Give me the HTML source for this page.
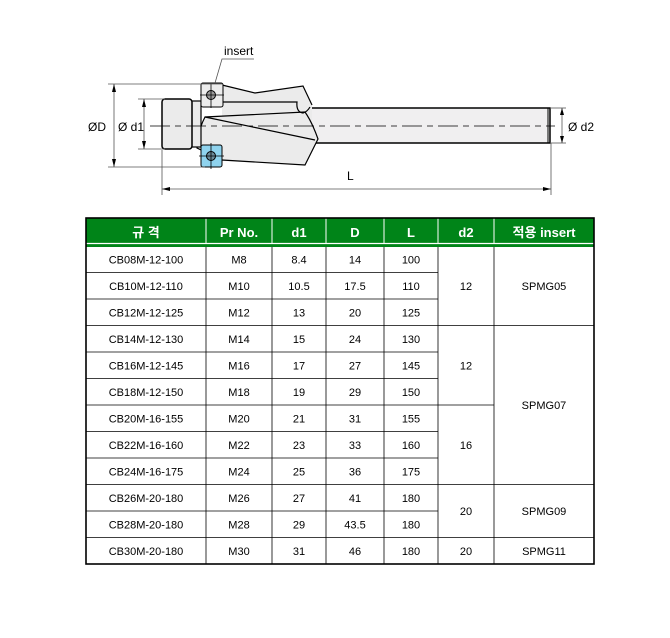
<!DOCTYPE html>
<html><head><meta charset="utf-8"><style>
html,body{margin:0;padding:0;background:#fff;}
svg{display:block;}
text{font-family:"Liberation Sans","Noto Sans CJK KR",sans-serif;}
</style></head><body>
<svg width="670" height="638" viewBox="0 0 670 638" xmlns="http://www.w3.org/2000/svg">
<!-- shank -->
<rect x="310" y="108" width="240" height="35" fill="#f0eff0" stroke="#000" stroke-width="1.5"/>
<line x1="548" y1="108" x2="548" y2="143" stroke="#000" stroke-width="1"/>
<!-- body -->
<path d="M222,85 L255,93 L303,86 L312,105 L312,143 L305,165 L222,161 L222,103 Z" fill="#ebebeb" stroke="none"/>
<path d="M205,117 Q198,130 197,148 L222,160 L305,165 L318,139 Q312,122 305,112 Z" fill="#ebebeb" stroke="#000" stroke-width="1.2"/>
<path d="M222,85 L255,93 L303,86 L312,105" fill="none" stroke="#000" stroke-width="1.2"/>
<path d="M222,102 L297,102 Q296,112 303,113 Q307,112 310,107" fill="none" stroke="#000" stroke-width="1.2"/>
<path d="M205,117 L315,140" fill="none" stroke="#000" stroke-width="1.2"/>
<!-- head -->
<rect x="191" y="101" width="10" height="46" fill="#ebebeb" stroke="#000" stroke-width="1.2"/>
<rect x="162" y="99" width="30" height="50" rx="3" fill="#ebebeb" stroke="#000" stroke-width="1.5"/>
<!-- inserts -->
<rect x="201" y="83" width="22" height="24" rx="2" fill="#ececec" stroke="#000" stroke-width="1"/>
<circle cx="211" cy="95" r="4.5" fill="#999" stroke="#000"/>
<line x1="200" y1="95" x2="224" y2="95" stroke="#000" stroke-width="0.8"/>
<line x1="211" y1="84" x2="211" y2="108" stroke="#000" stroke-width="0.8"/>
<rect x="201" y="145" width="21" height="22" rx="2" fill="#8fd3ee" stroke="#000" stroke-width="1"/>
<circle cx="211" cy="156" r="4.5" fill="#6b8a99" stroke="#000"/>
<line x1="199" y1="156" x2="224" y2="156" stroke="#000" stroke-width="0.8"/>
<line x1="211" y1="143" x2="211" y2="169" stroke="#000" stroke-width="0.8"/>
<!-- center line -->
<line x1="150" y1="126" x2="555" y2="126" stroke="#000" stroke-width="0.8" stroke-dasharray="20,5,6,5"/>
<!-- dimension lines -->
<g stroke="#555" stroke-width="0.8" fill="none">
<line x1="108" y1="84" x2="222" y2="84"/>
<line x1="108" y1="167" x2="205" y2="167"/>
<line x1="138" y1="99" x2="165" y2="99"/>
<line x1="138" y1="149" x2="165" y2="149"/>
<line x1="114" y1="84" x2="114" y2="167"/>
<line x1="144" y1="99" x2="144" y2="149"/>
<line x1="162" y1="150" x2="162" y2="195"/>
<line x1="551" y1="143" x2="551" y2="195"/>
<line x1="162" y1="189" x2="551" y2="189"/>
<line x1="550" y1="108" x2="566" y2="108"/>
<line x1="550" y1="143" x2="566" y2="143"/>
<line x1="562" y1="108" x2="562" y2="143"/>
<polyline points="215,83 222,59 254,59"/>
</g>
<g fill="#000">
<polygon points="114,84 112,92 116,92"/><polygon points="114,167 112,159 116,159"/>
<polygon points="144,99 142,107 146,107"/><polygon points="144,149 142,141 146,141"/>
<polygon points="162,189 170,187 170,191"/><polygon points="551,189 543,187 543,191"/>
<polygon points="562,108 560,115 564,115"/><polygon points="562,143 560,136 564,136"/>
</g>
<g font-size="12" fill="#000">
<text x="224" y="55">insert</text>
<text x="88" y="131">ØD</text>
<text x="118" y="131">Ø d1</text>
<text x="568" y="131">Ø d2</text>
<text x="347" y="180">L</text>
</g>
<!-- table -->
<rect x="86" y="218" width="508" height="29" fill="#008418"/>
<line x1="86" y1="243.5" x2="594" y2="243.5" stroke="#fff" stroke-width="1.2"/>
<g stroke="#fff" stroke-width="1">
<line x1="206" y1="218" x2="206" y2="243"/><line x1="272" y1="218" x2="272" y2="243"/>
<line x1="326" y1="218" x2="326" y2="243"/><line x1="384" y1="218" x2="384" y2="243"/>
<line x1="438" y1="218" x2="438" y2="243"/><line x1="494" y1="218" x2="494" y2="243"/>
</g>
<g fill="#fff" font-size="13" font-weight="bold" text-anchor="middle">
<text x="146" y="237">규 격</text><text x="239" y="237">Pr No.</text><text x="299" y="237">d1</text>
<text x="355" y="237">D</text><text x="411" y="237">L</text><text x="466" y="237">d2</text><text x="544" y="237">적용 insert</text>
</g>
<g stroke="#000" stroke-width="0.8">
<line x1="206" y1="247" x2="206" y2="564"/><line x1="272" y1="247" x2="272" y2="564"/>
<line x1="326" y1="247" x2="326" y2="564"/><line x1="384" y1="247" x2="384" y2="564"/>
<line x1="438" y1="247" x2="438" y2="564"/><line x1="494" y1="247" x2="494" y2="564"/>
<line x1="86" y1="272.5" x2="438" y2="272.5"/><line x1="86" y1="299" x2="438" y2="299"/>
<line x1="86" y1="325.5" x2="594" y2="325.5"/>
<line x1="86" y1="352" x2="438" y2="352"/><line x1="86" y1="378.5" x2="438" y2="378.5"/>
<line x1="86" y1="405" x2="494" y2="405"/>
<line x1="86" y1="431.5" x2="438" y2="431.5"/><line x1="86" y1="458" x2="438" y2="458"/>
<line x1="86" y1="484.5" x2="594" y2="484.5"/>
<line x1="86" y1="511" x2="438" y2="511"/>
<line x1="86" y1="537.5" x2="594" y2="537.5"/>
</g>
<rect x="86" y="218" width="508" height="346" fill="none" stroke="#000" stroke-width="1.6"/>
<g font-size="11" fill="#000" text-anchor="middle">
<text x="146" y="263.5">CB08M-12-100</text><text x="239" y="263.5">M8</text><text x="299" y="263.5">8.4</text><text x="355" y="263.5">14</text><text x="411" y="263.5">100</text>
<text x="146" y="290">CB10M-12-110</text><text x="239" y="290">M10</text><text x="299" y="290">10.5</text><text x="355" y="290">17.5</text><text x="411" y="290">110</text>
<text x="146" y="316.5">CB12M-12-125</text><text x="239" y="316.5">M12</text><text x="299" y="316.5">13</text><text x="355" y="316.5">20</text><text x="411" y="316.5">125</text>
<text x="146" y="343">CB14M-12-130</text><text x="239" y="343">M14</text><text x="299" y="343">15</text><text x="355" y="343">24</text><text x="411" y="343">130</text>
<text x="146" y="369.5">CB16M-12-145</text><text x="239" y="369.5">M16</text><text x="299" y="369.5">17</text><text x="355" y="369.5">27</text><text x="411" y="369.5">145</text>
<text x="146" y="396">CB18M-12-150</text><text x="239" y="396">M18</text><text x="299" y="396">19</text><text x="355" y="396">29</text><text x="411" y="396">150</text>
<text x="146" y="422.5">CB20M-16-155</text><text x="239" y="422.5">M20</text><text x="299" y="422.5">21</text><text x="355" y="422.5">31</text><text x="411" y="422.5">155</text>
<text x="146" y="449">CB22M-16-160</text><text x="239" y="449">M22</text><text x="299" y="449">23</text><text x="355" y="449">33</text><text x="411" y="449">160</text>
<text x="146" y="475.5">CB24M-16-175</text><text x="239" y="475.5">M24</text><text x="299" y="475.5">25</text><text x="355" y="475.5">36</text><text x="411" y="475.5">175</text>
<text x="146" y="502">CB26M-20-180</text><text x="239" y="502">M26</text><text x="299" y="502">27</text><text x="355" y="502">41</text><text x="411" y="502">180</text>
<text x="146" y="528.5">CB28M-20-180</text><text x="239" y="528.5">M28</text><text x="299" y="528.5">29</text><text x="355" y="528.5">43.5</text><text x="411" y="528.5">180</text>
<text x="146" y="555">CB30M-20-180</text><text x="239" y="555">M30</text><text x="299" y="555">31</text><text x="355" y="555">46</text><text x="411" y="555">180</text>
<text x="466" y="290">12</text><text x="466" y="369.5">12</text><text x="466" y="449">16</text><text x="466" y="515">20</text><text x="466" y="555">20</text>
<text x="544" y="290">SPMG05</text><text x="544" y="409">SPMG07</text><text x="544" y="515">SPMG09</text><text x="544" y="555">SPMG11</text>
</g>
</svg>
</body></html>
